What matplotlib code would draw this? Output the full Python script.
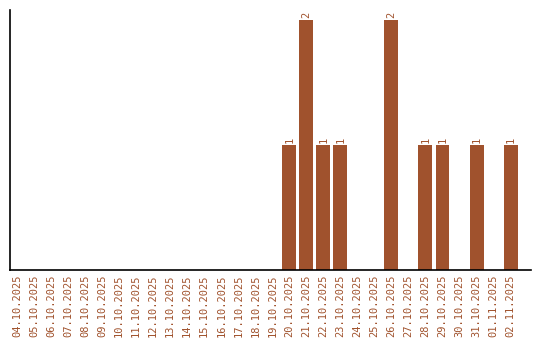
import matplotlib

matplotlib.use("Agg")
import matplotlib.pyplot as plt

# daily counts, 04.10.2025 .. 02.11.2025
dates = [
    "04.10.2025", "05.10.2025", "06.10.2025", "07.10.2025", "08.10.2025",
    "09.10.2025", "10.10.2025", "11.10.2025", "12.10.2025", "13.10.2025",
    "14.10.2025", "15.10.2025", "16.10.2025", "17.10.2025", "18.10.2025",
    "19.10.2025", "20.10.2025", "21.10.2025", "22.10.2025", "23.10.2025",
    "24.10.2025", "25.10.2025", "26.10.2025", "27.10.2025", "28.10.2025",
    "29.10.2025", "30.10.2025", "31.10.2025", "01.11.2025", "02.11.2025",
]
counts = [0, 0, 0, 0, 0, 0, 0, 0, 0, 0,
          0, 0, 0, 0, 0, 0, 1, 2, 1, 1,
          0, 0, 2, 0, 1, 1, 0, 1, 0, 1]

BROWN = "#a0522d"
FONT = "DejaVu Sans Mono"

fig = plt.figure(figsize=(5.4, 3.4), dpi=100)
ax = fig.add_axes([10 / 540, 70 / 340, 521 / 540, 260 / 340])

x = list(range(len(dates)))
ax.bar(x, counts, width=0.82, color=BROWN)
for xi, c in zip(x, counts):
    if c > 0:
        ax.text(xi, c + 0.015, str(c), rotation=90, ha="center", va="bottom",
                color=BROWN, fontsize=7.5, family=FONT)

ax.set_xlim(-0.41, 30.2)
ax.set_ylim(0, 2.08)
ax.set_xticks(x)
ax.set_xticklabels(dates, rotation=90, color=BROWN, fontsize=7.5, family=FONT)
ax.tick_params(axis="x", length=0, pad=3)
ax.set_yticks([])
ax.spines["top"].set_visible(False)
ax.spines["right"].set_visible(False)
ax.spines["left"].set_linewidth(1.2)
ax.spines["bottom"].set_linewidth(1.2)

fig.savefig("out.png", dpi=100)
